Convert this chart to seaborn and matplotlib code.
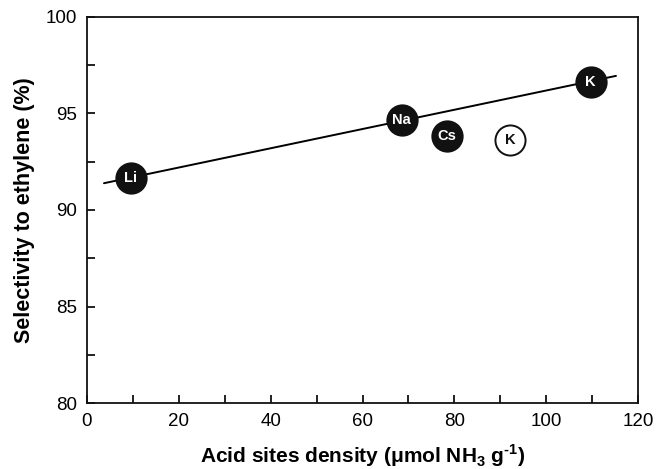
import matplotlib
matplotlib.use("Agg")
import matplotlib.pyplot as plt
import seaborn as sns
import numpy as np
import pandas as pd
from matplotlib.ticker import MultipleLocator

# Data
labels = ["Li", "Na", "Cs", "K", "K"]
acid_density = [9.5, 68.5, 78.4, 92.2, 109.7]
selectivity = [91.66, 94.66, 93.83, 93.63, 96.65]
filled = [True, True, True, False, True]
fit_members = [True, True, False, False, True]
fit_range = [3.7, 115.2]

df = pd.DataFrame({"label": labels, "x": acid_density, "y": selectivity,
                   "filled": filled, "fit": fit_members})

sns.set_style("white")
plt.rcParams["font.family"] = ["Liberation Sans", "DejaVu Sans"]
plt.rcParams["text.color"] = "black"
plt.rcParams["axes.labelcolor"] = "black"
plt.rcParams["xtick.color"] = "black"
plt.rcParams["ytick.color"] = "black"

fig = plt.figure(figsize=(6.56, 4.69), dpi=100)
ax = fig.add_axes([0.1326, 0.1407, 0.84, 0.8231])

# regression line over the filled (fit) points
fd = df[df["fit"]]
slope, intercept = np.polyfit(fd["x"], fd["y"], 1)
lx = np.array(fit_range)
line_df = pd.DataFrame({"x": lx, "y": slope * lx + intercept})
sns.lineplot(data=line_df, x="x", y="y", ax=ax, color="black", lw=1.4, zorder=1)

fdf = df[df["filled"]]
odf = df[~df["filled"]]
sns.scatterplot(data=fdf, x="x", y="y", ax=ax, s=540, color="#111111",
                edgecolor="#111111", linewidth=0, zorder=3)
sns.scatterplot(data=odf, x="x", y="y", ax=ax, s=470, color="white",
                edgecolor="#111111", linewidth=1.4, zorder=3)

for _, r in df.iterrows():
    ax.text(r["x"], r["y"], r["label"], ha="center", va="center",
            fontsize=10.5, fontweight="bold",
            color="white" if r["filled"] else "#111111", zorder=4)

ax.set_xlim(0, 120)
ax.set_ylim(80, 100)
ax.xaxis.set_major_locator(MultipleLocator(20))
ax.xaxis.set_minor_locator(MultipleLocator(10))
ax.yaxis.set_major_locator(MultipleLocator(5))
ax.yaxis.set_minor_locator(MultipleLocator(2.5))
ax.tick_params(axis="both", which="both", direction="in", bottom=True, left=True,
               top=False, right=False, color="#111111", width=1.3)
ax.tick_params(axis="both", which="major", length=6, labelsize=13.5, pad=7,
               labelcolor="black")
ax.tick_params(axis="both", which="minor", length=6)
for sp in ax.spines.values():
    sp.set_color("#111111")
    sp.set_linewidth(1.3)

ax.set_xlabel("Acid sites density (μmol NH$_\\mathregular{3}$ g$^\\mathregular{\u20101}$)",
              fontsize=15, fontweight="bold", labelpad=9)
ax.set_ylabel("Selectivity to ethylene (%)", fontsize=15.5, fontweight="bold", labelpad=8)

fig.savefig("out.png", dpi=100)
